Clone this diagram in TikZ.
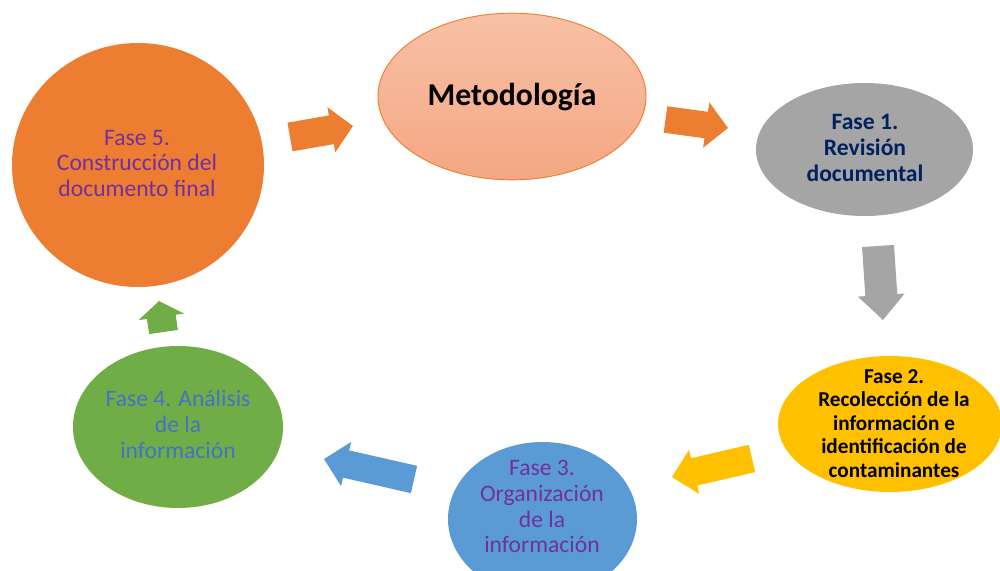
\documentclass[tikz,border=0pt]{standalone}
\usepackage{fontspec}
\setmainfont{Carlito}
\usetikzlibrary{shapes.geometric,calc}
\definecolor{corange}{HTML}{ED7D31}
\definecolor{cmetatop}{HTML}{F8C1A6}
\definecolor{cmetabot}{HTML}{F4A783}
\definecolor{cgray}{HTML}{A5A5A5}
\definecolor{cyellow}{HTML}{FFC000}
\definecolor{cblue}{HTML}{5B9BD5}
\definecolor{cgreen}{HTML}{70AD47}
\definecolor{cpurple}{HTML}{7030A0}
\definecolor{cnavy}{HTML}{002060}
\definecolor{ctxtblue}{HTML}{4472C4}
% block arrow: colour, start, tip, shaft half-width (pt), head half-width (pt), head length (pt)
\newcommand\blockarrow[6]{%
  \path let \p1=(#2), \p2=(#3),
    \n1={atan2(\y2-\y1,\x2-\x1)}, \n2={veclen(\x2-\x1,\y2-\y1)} in
    \pgfextra{\xdef\baang{\n1}\xdef\balen{\n2}};
  \begin{scope}[shift={(#2)}, x=1pt, y=1pt, rotate=\baang]
    \fill[#1] (0,#4) -- ({\balen-#6},#4) -- ({\balen-#6},#5) -- (\balen,0)
      -- ({\balen-#6},-#5) -- ({\balen-#6},-#4) -- (0,-#4) -- cycle;
  \end{scope}}
\tikzset{
  blob/.style={ellipse, draw=none, inner sep=0pt, outer sep=0pt},
  txt/.style={align=center, inner sep=0pt, font=\fontsize{17.7}{19.4}\selectfont},
  txtb/.style={align=center, inner sep=0pt, font=\fontsize{17.7}{19.2}\selectfont\bfseries},
}
\begin{document}
\begin{tikzpicture}[x=0.75pt,y=-0.75pt]
\useasboundingbox (0,0) rectangle (1000,571);
\clip (0,0) rectangle (1000,571);
% shapes
\node[blob, fill=corange, minimum width=189pt, minimum height=183pt] (f5) at (138,165) {};
\node[blob, top color=cmetatop, bottom color=cmetabot, draw=corange, line width=0.7pt, minimum width=201pt, minimum height=125pt] (meta) at (512,96.5) {};
\node[blob, fill=cgray, minimum width=162.75pt, minimum height=99.75pt] (f1) at (864.5,149.5) {};
\node[blob, fill=cyellow, minimum width=168pt, minimum height=102pt] (f2) at (890,424) {};
\node[blob, fill=cblue, minimum width=141.75pt, minimum height=115.5pt] (f3) at (542.5,519) {};
\node[blob, fill=cgreen, minimum width=157.5pt, minimum height=121.5pt] (f4) at (178,427) {};
% texts
\node[anchor=base, inner sep=0pt, font=\fontsize{23.8}{26}\selectfont\bfseries] (tmeta) at (512,105) {Metodología};
\node[txt, text=cpurple] (t5) at (137,163.5) {Fase 5.\\Construcción del\\documento final};
\node[txtb, text=cnavy] (t1) at (865,148) {Fase 1.\\Revisión\\documental};
\node[align=center, inner sep=0pt, font=\fontsize{15.9}{17.6}\selectfont\bfseries] (t2) at (894,423.3) {Fase 2.\\Recolección de la\\información e\\identificación de\\contaminantes};
\node[txt, text=cpurple] (t3) at (542,506.5) {Fase 3.\\Organización\\de la\\información};
\node[txt, text=ctxtblue] (t4) at (178,424.5) {Fase 4. Análisis\\de la\\información};
% arrow coordinates
\coordinate (a1s) at (290,137);   \coordinate (a1t) at (353,126);
\coordinate (a2s) at (665.5,119.5); \coordinate (a2t) at (728,128);
\coordinate (a3s) at (878,246);   \coordinate (a3t) at (883,320);
\coordinate (a4s) at (752,458.5); \coordinate (a4t) at (672,477);
\coordinate (a5s) at (414,479.5); \coordinate (a5t) at (324,459);
\coordinate (a6s) at (163.5,332); \coordinate (a6t) at (159,301);
\blockarrow{corange}{a1s}{a1t}{10.9}{17.2}{16.5}
\blockarrow{corange}{a2s}{a2t}{10}{17.2}{16.5}
\blockarrow{cgray}{a3s}{a3t}{12}{17.6}{18.75}
\blockarrow{cyellow}{a4s}{a4t}{10.5}{17}{17}
\blockarrow{cblue}{a5s}{a5t}{10.5}{17}{17}
\blockarrow{cgreen}{a6s}{a6t}{10.9}{17.2}{12}
\end{tikzpicture}
\end{document}
